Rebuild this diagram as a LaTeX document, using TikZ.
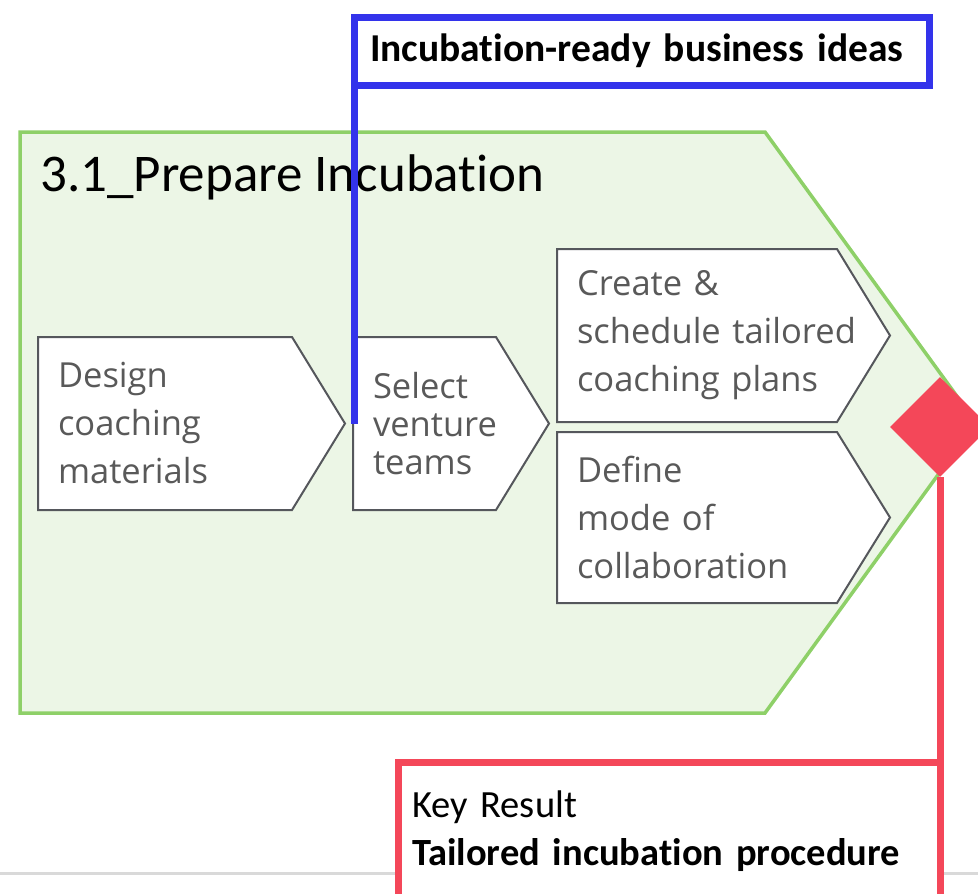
\documentclass[tikz,border=0pt]{standalone}
\usepackage{fontspec}
\usepackage{xcolor}
\usetikzlibrary{shapes.geometric, backgrounds}
\newfontfamily\calfont[Ligatures=NoCommon]{Carlito}
\newfontfamily\boxfont{Open Sans}
\definecolor{phasefill}{RGB}{236,246,230}
\definecolor{phaseline}{RGB}{142,208,104}
\definecolor{inputblue}{RGB}{51,51,235}
\definecolor{resultred}{RGB}{244,71,89}
\definecolor{chevline}{RGB}{85,87,92}
\definecolor{chevtext}{RGB}{89,89,89}
\definecolor{pagerule}{RGB}{217,217,217}
\tikzstyle{chevbox} = [rectangle, inner xsep=20pt, inner ysep=0pt, outer sep=0pt,
align=left, text=chevtext, font=\boxfont\fontsize{34.5}{48}\selectfont]
\tikzstyle{chevshape} = [draw=chevline, fill=white, line width=2pt, line join=miter]
\tikzstyle{labelbox} = [rectangle, fill=white, line width=7pt, outer sep=0pt,
anchor=north west, align=left]
\tikzstyle{phase} = [draw=phaseline, fill=phasefill, line width=3.5pt, line join=miter]

\begin{document}
\begin{tikzpicture}[x=1pt, y=-1pt]
    \useasboundingbox (0,0) rectangle (978,894);

    \node (phasetitle) [anchor=base west, inner sep=0pt,
    font=\calfont\fontsize{53}{58}\selectfont] at (40,191) {3.1\_Prepare Incubation};

    \node (design) [chevbox, text width=267pt, minimum height=173pt] at (191.5,423.5)
    {Design\\coaching\\materials};
    \node (select) [chevbox, text width=156pt, minimum height=173pt,
    font=\boxfont\fontsize{34.5}{38}\selectfont] at (451,423.5)
    {Select\\venture\\teams};
    \node (create) [chevbox, text width=293pt, minimum height=173pt] at (723.5,335.5)
    {Create \&\\schedule tailored\\coaching plans};
    \node (define) [chevbox, text width=293pt, minimum height=171pt] at (723.5,517.5)
    {Define\\mode of\\collaboration};

    \begin{pgfonlayer}{background}
        \draw[pagerule, line width=3pt] (0,873) -- (978,873);
        \draw[phase] (20,132) -- (765,132) -- (976,422.5) -- (765,713) -- (20,713) -- cycle;
        \foreach \n in {design,select,create,define}
        \draw[chevshape] (\n.north west) -- ([xshift=-53pt]\n.north east) -- (\n.east)
        -- ([xshift=-53pt]\n.south east) -- (\n.south west) -- cycle;
    \end{pgfonlayer}

    \node (ideas) [labelbox, draw=inputblue, minimum height=68pt, text width=543pt,
    inner xsep=16pt, font=\calfont\bfseries\fontsize{39.5}{44}\selectfont] at (354,17)
    {Incubation-ready business ideas};

    \node (kr) [diamond, fill=resultred, minimum width=100pt, minimum height=100pt,
    inner sep=0pt] at (940,427) {};

    \node (result) [labelbox, draw=resultred, text width=514pt, inner xsep=14pt,
    inner ysep=29pt, font=\calfont\fontsize{38.5}{48}\selectfont] at (398,762)
    {Key Result\\\textbf{Tailored incubation procedure}};

    \draw[inputblue, line width=7pt] (ideas.south west) -- (ideas.south west |- select.west);
    \draw[resultred, line width=7pt] (kr.south) -- (result.north east);
\end{tikzpicture}
\end{document}
